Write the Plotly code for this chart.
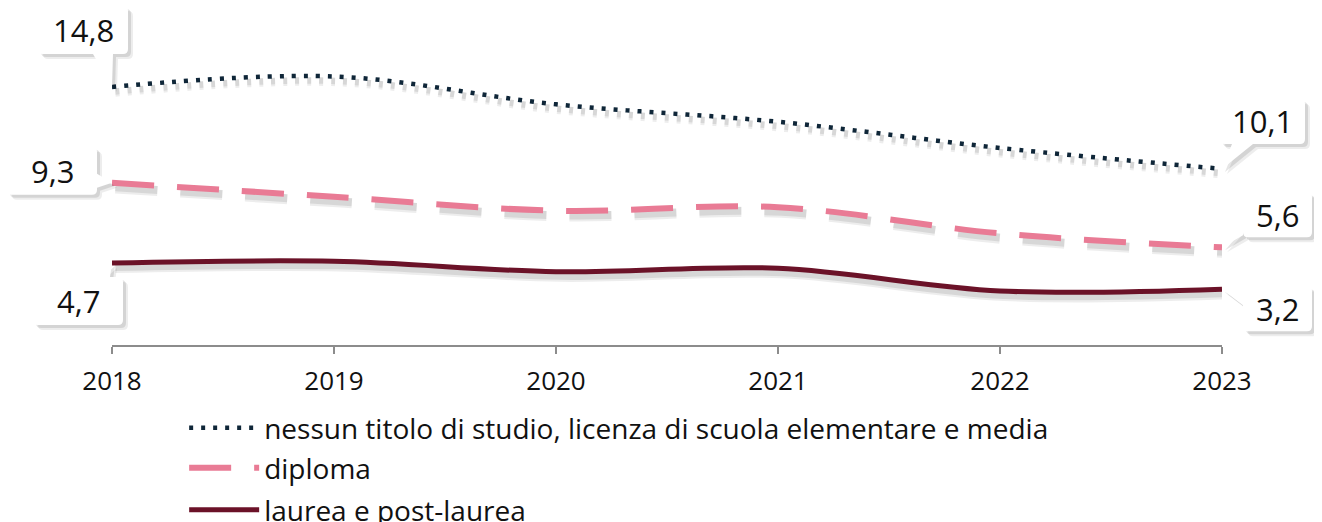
import plotly.graph_objects as go

years = [2018, 2019, 2020, 2021, 2022, 2023]
nessun = [14.8, 15.4, 13.8, 12.8, 11.3, 10.1]
diploma = [9.3, 8.5, 7.7, 7.9, 6.4, 5.6]
laurea = [4.7, 4.8, 4.2, 4.4, 3.1, 3.2]

names = ["nessun titolo di studio, licenza di scuola elementare e media",
         "diploma", "laurea e post-laurea"]
colors = ["#0f2638", "#e97b95", "#6b1228"]
dashes = ["4px,8px", "42px,23px", "solid"]
widths = [4.5, 6, 5]
series = [nessun, diploma, laurea]
legends = ["legend", "legend2", "legend3"]

FONT = "Open Sans"
YMAX = 16
fig = go.Figure()

# soft line shadows
for vals, dash, w in zip(series, dashes, widths):
    for off, alpha, extra in [(0.32, 0.07, 4), (0.26, 0.09, 2)]:
        fig.add_trace(go.Scatter(
            x=[v + 0.015 for v in years], y=[v - off for v in vals], mode="lines",
            line=dict(color=f"rgba(0,0,0,{alpha})", width=w + extra, dash=dash,
                      shape="spline", smoothing=1),
            showlegend=False, hoverinfo="skip"))

for vals, name, c, dash, w, lg in zip(series, names, colors, dashes, widths, legends):
    fig.add_trace(go.Scatter(
        x=years, y=vals, mode="lines", name=name, legend=lg,
        line=dict(color=c, width=w, dash=dash, shape="spline", smoothing=1)))


def callout_path(bx0, bx1, by0, by1, tail, dx=0, dy=0, r=5):
    """Rounded box + triangular tail, screen-pixel offsets (y down) -> path (y up)."""
    def p(x, y):
        return f"{x + dx},{-(y + dy)}"
    side, a, b = tail
    segs = [f"M{p(bx0 + r, by0)}"]
    if side == "top":
        segs += [f"L{p(a, by0)}", f"L{p(0, 0)}", f"L{p(b, by0)}"]
    segs += [f"L{p(bx1 - r, by0)}", f"Q{p(bx1, by0)} {p(bx1, by0 + r)}"]
    if side == "right":
        segs += [f"L{p(bx1, a)}", f"L{p(0, 0)}", f"L{p(bx1, b)}"]
    segs += [f"L{p(bx1, by1 - r)}", f"Q{p(bx1, by1)} {p(bx1 - r, by1)}"]
    if side == "bottom":
        segs += [f"L{p(b, by1)}", f"L{p(0, 0)}", f"L{p(a, by1)}"]
    segs += [f"L{p(bx0 + r, by1)}", f"Q{p(bx0, by1)} {p(bx0, by1 - r)}"]
    if side == "left":
        segs += [f"L{p(bx0, b)}", f"L{p(0, 0)}", f"L{p(bx0, a)}"]
    segs += [f"L{p(bx0, by0 + r)}", f"Q{p(bx0, by0)} {p(bx0 + r, by0)}", "Z"]
    return " ".join(segs)


# callouts: series, index, box (x0,x1,y0,y1) rel. to point in px (y down), tail
callouts = [
    (nessun, 0, (-74, 16, -81, -33), ("bottom", -19, 1)),
    (diploma, 0, (-105, -15, -36, 12), ("right", -9, 5)),
    (laurea, 0, (-79, 11, 14, 62), ("top", -16, -2)),
    (nessun, -1, (-2, 83, -70, -25), ("bottom", 10, 31)),
    (diploma, -1, (21, 90, -55, -10), ("left", -24, -12)),
    (laurea, -1, (21, 90, -3, 42), ("left", 3, 16)),
]
for vals, i, box, tail in callouts:
    xp = (years[i] - years[0]) / (years[-1] - years[0])
    yp = vals[i] / YMAX
    bx0, bx1, by0, by1 = box
    for d, alpha in [(5, 0.07), (3, 0.10)]:
        fig.add_shape(type="path", xref="paper", yref="paper",
                      xsizemode="pixel", ysizemode="pixel", xanchor=xp, yanchor=yp,
                      path=callout_path(bx0, bx1, by0, by1, tail, d, d),
                      fillcolor=f"rgba(0,0,0,{alpha})", line=dict(width=0), layer="above")
    fig.add_shape(type="path", xref="paper", yref="paper",
                  xsizemode="pixel", ysizemode="pixel", xanchor=xp, yanchor=yp,
                  path=callout_path(bx0, bx1, by0, by1, tail),
                  fillcolor="white", line=dict(width=0), layer="above")
    txt = f"{vals[i]:.1f}".replace(".", ",")
    fig.add_annotation(x=years[i], y=vals[i], text=txt, showarrow=False,
                       xshift=(bx0 + bx1) / 2, yshift=-(by0 + by1) / 2,
                       font=dict(family=FONT, size=31, color="#111111"))

leg_y = [-0.2975, -0.4409, -0.5914]
for lg, yy in zip(legends, leg_y):
    fig.update_layout(**{lg: dict(x=0.065, y=yy, xanchor="left", yanchor="middle",
                                  font=dict(family=FONT, size=28, color="#111111"),
                                  itemwidth=70, bgcolor="rgba(0,0,0,0)")})

fig.update_layout(
    width=1314, height=514,
    margin=dict(l=104, r=100, t=58, b=177, autoexpand=False),
    plot_bgcolor="white", paper_bgcolor="white",
    font=dict(family=FONT, color="#111111"),
    xaxis=dict(range=[years[0], years[-1]], tickvals=years,
               ticktext=[str(y) for y in years],
               showgrid=False, zeroline=False, showline=True, linecolor="#8c8c8c",
               linewidth=1.5, ticks="outside", ticklen=7, tickcolor="#8c8c8c",
               tickwidth=1.5, ticklabelstandoff=5,
               tickfont=dict(family=FONT, size=26, color="#111111")),
    yaxis=dict(range=[0, YMAX], visible=False, showgrid=False),
)

fig.write_html("out.html")
